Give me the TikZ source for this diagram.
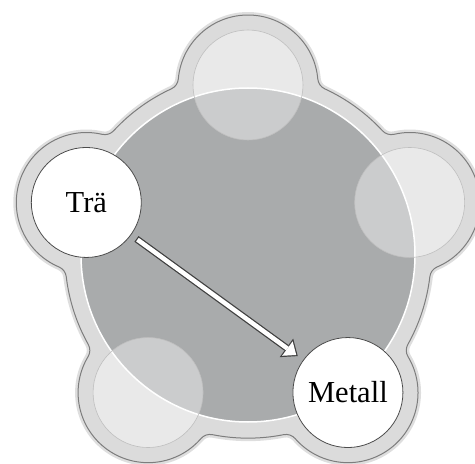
\documentclass[tikz,border=0pt]{standalone}
\usepackage{fontspec}
\setmainfont{Liberation Serif}
\usetikzlibrary{arrows.meta}
\definecolor{halo}{RGB}{219,219,219}
\definecolor{haloline}{RGB}{125,125,125}
\definecolor{disc}{RGB}{169,171,172}

\begin{document}
\begin{tikzpicture}[x=1pt, y=1pt, every node/.style={draw, circle, minimum size=110pt, inner sep=0pt, outer sep=0pt, font=\fontsize{30.5}{35}\selectfont}]
\useasboundingbox (-248,-209) rectangle (227,255);
\filldraw[fill=halo, draw=haloline, line width=1pt, preaction={draw=black!13, line width=6pt}]
 (114.75:183)
 arc[start angle=294.75, end angle=355.04, radius=12]
 arc[start angle=175.04, end angle=4.96, radius=70]
 arc[start angle=184.96, end angle=245.25, radius=12]
 arc[start angle=65.25, end angle=42.75, radius=183]
 arc[start angle=222.75, end angle=283.04, radius=12]
 arc[start angle=103.04, end angle=-67.04, radius=70]
 arc[start angle=112.96, end angle=173.25, radius=12]
 arc[start angle=-6.75, end angle=-29.25, radius=183]
 arc[start angle=150.75, end angle=211.04, radius=12]
 arc[start angle=31.04, end angle=-139.04, radius=70]
 arc[start angle=40.96, end angle=101.25, radius=12]
 arc[start angle=-78.75, end angle=-101.25, radius=183]
 arc[start angle=78.75, end angle=139.04, radius=12]
 arc[start angle=-40.96, end angle=-211.04, radius=70]
 arc[start angle=-31.04, end angle=29.25, radius=12]
 arc[start angle=-150.75, end angle=-173.25, radius=183]
 arc[start angle=6.75, end angle=67.04, radius=12]
 arc[start angle=-112.96, end angle=-283.04, radius=70]
 arc[start angle=-103.04, end angle=-42.75, radius=12]
 arc[start angle=-222.75, end angle=-245.25, radius=183]
 -- cycle;
\node[fill=disc, draw=white, line width=1.5pt, minimum size=334pt] (W1C) at (0,0) {};
\node[fill=white, fill opacity=0.4, draw=black!25, line width=0.6pt] (W1N0) at (90:170) {};
\node[fill=white, fill opacity=0.4, draw=black!25, line width=0.6pt] (W1N1) at (18:170) {};
\node[fill=white, draw=black!70, line width=0.8pt] (W1N2) at (-54:170) {Metall};
\node[fill=white, fill opacity=0.4, draw=black!25, line width=0.6pt] (W1N3) at (-126:170) {};
\node[fill=white, draw=black!70, line width=0.8pt] (W1N4) at (162:170) {Trä};
\draw[black!75, line width=7pt, shorten <=7pt, shorten >=7pt, -{Triangle[length=14pt, width=23pt, line width=0pt]}] (W1N4) -- (W1N2);
\draw[white, line width=4.5pt, shorten <=8.2pt, shorten >=8.9pt, -{Triangle[length=10.9pt, width=17.9pt, line width=0pt]}] (W1N4) -- (W1N2);
\end{tikzpicture}
\end{document}
